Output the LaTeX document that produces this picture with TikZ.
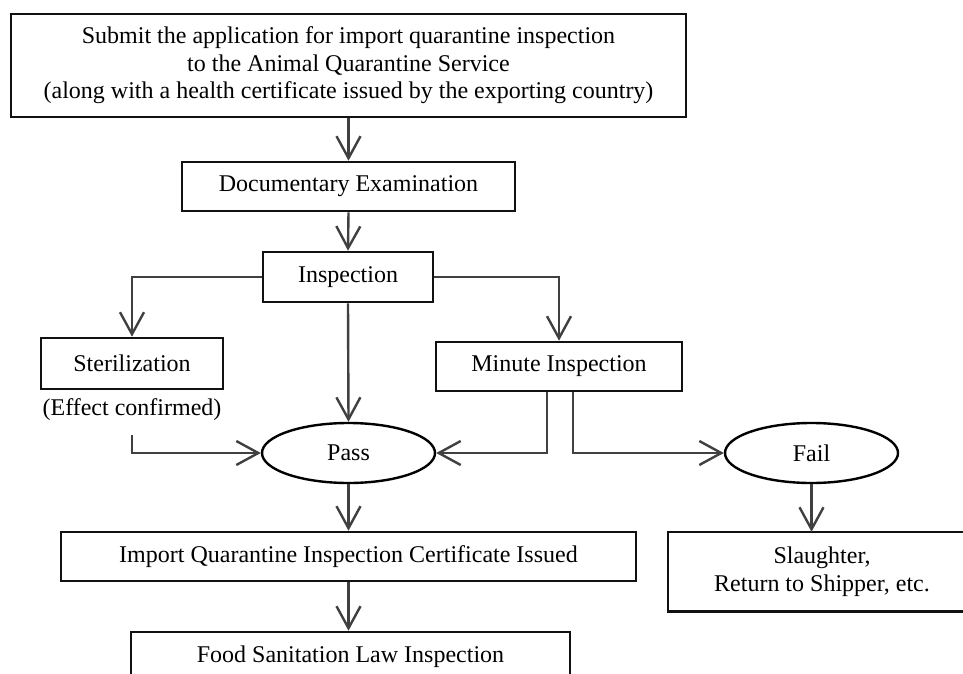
\documentclass[tikz,border=0pt]{standalone}
\usepackage{fontspec}
\setmainfont{Liberation Serif}
\usetikzlibrary{arrows.meta,shapes.geometric}
\definecolor{boxline}{HTML}{111111}
\definecolor{wire}{HTML}{404040}
\begin{document}
\begin{tikzpicture}[x=1pt,y=-1pt,
  every node/.style={font=\fontsize{24}{27.5}\selectfont, inner sep=0pt, align=center},
  stepbox/.style={draw=boxline, line width=2.6pt, rectangle},
  verdict/.style={draw=black, line width=2.4pt, ellipse, minimum width=173pt, minimum height=60pt},
  arr/.style={draw=wire, line width=2.4pt, -{Straight Barb[length=22pt,width=24pt,line width=2.4pt]}},
  wireline/.style={draw=wire, line width=2.4pt}]
  \useasboundingbox (0,0) rectangle (963,674);
  \clip (0,0) rectangle (963,674);

  % process boxes
  \node[stepbox, minimum width=675pt, minimum height=103pt] (submit) at (348.5,65.5)
    {Submit the application for import quarantine inspection\\
     to the Animal Quarantine Service\\
     (along with a health certificate issued by the exporting country)};
  \node[stepbox, minimum width=333pt, minimum height=49pt] (doc) at (348.5,186.5) {Documentary Examination};
  \node[stepbox, minimum width=170pt, minimum height=50pt] (insp) at (348,277) {Inspection};
  \node[stepbox, minimum width=182pt, minimum height=51pt] (ster) at (132,363.5) {Sterilization};
  \node (eff) at (132,410) {(Effect confirmed)};
  \node[stepbox, minimum width=246pt, minimum height=49pt] (minute) at (559,366.5) {Minute Inspection};
  \node[verdict] (pass) at (348.5,453) {Pass};
  \node[verdict] (fail) at (811.5,453) {Fail};
  \node[stepbox, minimum width=575pt, minimum height=49pt] (cert) at (348.5,556.5) {Import Quarantine Inspection Certificate Issued};
  % the outcome box runs past the right margin, so its frame is drawn open on that side
  \node[minimum width=308pt, minimum height=79pt] (slaughter) at (822,571.5)
    {Slaughter,\\Return to Shipper, etc.};
  \draw[stepbox] ([xshift=80pt]slaughter.north east) -- (slaughter.north west)
    -- (slaughter.south west) -- ([xshift=80pt]slaughter.south east);
  \node[stepbox, minimum width=439pt, minimum height=50pt] (food) at (350.5,657) {Food Sanitation Law Inspection};

  % connectors
  \coordinate (effstart) at (132,435);
  \draw[arr] (submit.south) -- (doc.north);
  \draw[arr] (doc.south) -- (insp.north);
  \draw[arr] (insp.west) -| (ster.north);
  \draw[arr] (insp.east) -| (minute.north);
  \draw[arr] (insp.south) -- (pass.north);
  \draw[arr] (effstart) |- (pass.west);
  \draw[arr] ([xshift=-12pt]minute.south) |- (pass.east);
  \draw[arr] ([xshift=14pt]minute.south) |- (fail.west);
  \draw[arr] (pass.south) -- (cert.north);
  \draw[arr] (fail.south) -- (fail.south |- slaughter.north);
  \draw[arr] (cert.south) -- (cert.south |- food.north);
\end{tikzpicture}
\end{document}
